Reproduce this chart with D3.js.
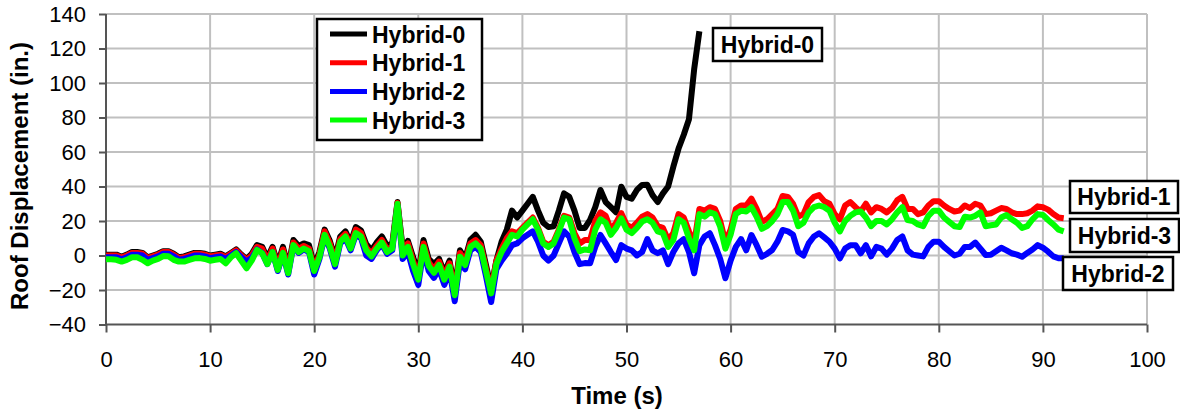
<!DOCTYPE html>
<html lang="en">
<head>
<meta charset="UTF-8">
<title>Roof Displacement</title>
<script src="https://cdn.jsdelivr.net/npm/d3@7"></script>
<style>
  * { margin: 0; padding: 0; }
  body { background: #fff; width: 1180px; height: 414px; overflow: hidden; }
  svg { display: block; font-family: 'Liberation Sans', Arial, sans-serif; }
  .tick-label { font-size: 22px; fill: #000; }
  .title { font-size: 24px; font-weight: bold; fill: #000; }
  .legend-text { font-size: 23px; font-weight: bold; fill: #000; }
</style>
</head>
<body>
<svg width="1180" height="414"></svg>
<script>
// sample step of the records (s)
const time = d3.range(0, 92.25, 0.5);

const xTicks = [0, 10, 20, 30, 40, 50, 60, 70, 80, 90, 100];
const yTicks = [-40, -20, 0, 20, 40, 60, 80, 100, 120, 140];

// Hybrid-0 stops at 57 s (collapse)
const hybrid0 = [
  0.5, 0.5, 0.5, -0.7, 0.5, 2, 2, 1.5, -1, 0,
  1, 2.5, 2.5, 1, -1, -0.5, 0.5, 1.5, 1.5, 1,
  0, 0.5, 1, -0.5, 1.5, 3.5, 0.5, -2, 1, 6,
  5, -1.5, 5, -5, 5, -7, 9, 5.5, 7, 6,
  -6, 2, 15, 8.5, -1.5, 11, 14, 7.5, 16.5, 14.5,
  6.5, 3, 7.5, 11, 5.5, 7, 31, 4, 8.5, -1,
  -10, 9, -2, -5, -2, -10, -3, -19.5, 3, -2,
  9, 12, 8, -5.5, -19, -3,
  8, 15, 26, 22, 26, 30, 34, 26, 19, 16.5,
  17, 26, 36, 34, 26, 16, 16, 20.6, 28, 38,
  31, 28, 25, 39.9, 34, 33, 38, 40.9, 41, 35,
  31, 36, 40, 51.5, 62, 70, 79, 108, 130
];

const hybrid1 = [
  0, 0, 0, -1.2, 0, 1.5, 1.5, 1, -1.5, -0.5,
  0.5, 2, 2, 0.5, -1.5, -1, 0, 1, 1, 0.5,
  -0.5, 0, 0.5, -1, 1, 3, 0, -2.5, 0, 5,
  4, -3, 4, -6.5, 3.5, -8, 7.5, 4, 5.5, 4,
  -7.5, 0.5, 14, 7, -3.5, 9.5, 12.5, 6, 15, 13,
  4.5, 1, 5.5, 9, 3.5, 5, 30.5, 2, 7, -3,
  -12.5, 7, -4, -8, -3.5, -12, -4.5, -21.5, 1.5, -3.5,
  7, 9, 6, -7.5, -20.5, -3,
  4, 10, 14, 13, 16, 19, 22, 16, 8, 6,
  8, 15, 23, 22, 13, 7, 9, 9, 20, 25,
  23, 15, 19, 24.5, 18, 16, 19, 22.5, 24, 22,
  17, 16, 9, 13, 24, 22, 14, 7, 27, 26,
  28, 27, 20, 8, 15, 27, 29, 29, 33, 27,
  19.5, 21, 24, 27, 34.5, 34, 30, 22.5, 24, 31,
  34, 35, 31.5, 30, 24, 21, 29, 31, 28, 25.5,
  30, 25, 28, 27, 25, 27.5, 32, 34, 27, 27,
  24, 25, 29, 31.5, 31.5, 29, 27, 25.5, 26, 29,
  27.5, 30, 29, 24, 24.5, 26, 27.5, 27, 25, 24,
  24, 24.5, 26, 28.5, 28, 26.6, 24, 22, 21.6
];

const hybrid2 = [
  -1, -1, -1, -2.2, -1, 0.5, 0.5, 0, -2.5, -1.5,
  -0.5, 1, 1, -0.5, -2.5, -2, -1, 0, 0, -0.5,
  -1.5, -1, -0.5, -2, 0, 2, -1, -3.5, -1.5, 3.5,
  1.5, -5, 2, -9, 1, -11, 5.5, 1.5, 3.5, 2,
  -11, -2, 11, 4, -6.5, 7, 10, 3, 12, 10,
  0, -2, 3, 6.5, 1, 3, 29, -2, 2, -9,
  -17, 3, -9, -13, -8, -17, -9, -26.5, -3.5, -8,
  3, 5, 2, -12, -27, -8,
  -3, 1, 6, 7, 10, 12, 14, 8, 0, -3,
  0, 7, 14, 11, 2, -5, -4.4, -4.5, 5, 11.9,
  7, 2, -2.6, 6, 4, 3, 0, 2, 9.5, 3,
  1.3, 3, -5, 2, 7, 9.5, 2, -10.3, 6, 11,
  12.9, 6, -2, -13.2, -3, 5, 9.5, 3, 11.9, 6,
  -0.7, 1, 3.2, 8, 14.8, 14, 12, 2, 0, 7,
  11, 12.9, 10.5, 8, 4, -1.6, 4, 6, 6, 1.3,
  6, -0.5, 5, 4, 0.5, 4, 9, 11, 3, 0.5,
  0, -0.5, 5, 8, 8, 5, 2.5, 0, 1, 5,
  5, 7.5, 4, 0.3, 0.5, 2.5, 4.5, 3, 1.3, 0.5,
  -0.7, 1.5, 3.5, 6, 4.5, 2.2, -0.5, -1.6, -1.6
];

const hybrid3 = [
  -2.2, -2.2, -2.5, -3.5, -2.5, -1, -1, -2.5, -4.5, -3,
  -2, -0.3, -0.5, -2.5, -3.5, -3.5, -2.5, -1.6, -1.5, -2,
  -3, -2.5, -2, -4.5, -1, 1.3, -3, -7.4, -3, 3.2,
  1.3, -5, 2, -8.4, 1.5, -10.3, 6, 2, 4, 2.5,
  -9, -1, 12, 5, -5, 8, 11, 4, 13, 11,
  3, -0.5, 4, 7.5, 2, 4, 30, 0, 5, -5,
  -14, 5, -6, -10, -5.5, -14, -6.5, -23, -0.7, -5.5,
  5, 7, 4, -9, -22, -5,
  2, 7, 12, 11, 15, 18, 21, 15, 7, 5,
  7, 14, 22, 21, 10, 2.5, 3.5, 3, 15, 21,
  19, 12, 16, 21.5, 15, 13, 16, 19.7, 21, 19,
  14, 13, 5, 9, 21, 19, 10, 3, 24, 22.5,
  25, 24, 16.7, 4, 12, 24, 26, 25.5, 28, 22.5,
  15.5, 17, 20, 24, 31, 31, 26, 17, 19, 25,
  28, 29, 28, 26, 19, 14, 20, 23, 25, 25.5,
  22, 17, 20, 20, 18, 21, 25, 28, 20.5, 20,
  18, 17, 23, 26, 26, 22, 19.5, 17, 16.5, 22.5,
  22, 23, 25, 17, 17.5, 18, 22, 23.5, 21, 19,
  16, 17, 21, 24, 23.5, 20.6, 18, 15, 14
];

const series = [
  { name: 'Hybrid-0', color: '#000000', values: hybrid0 },
  { name: 'Hybrid-1', color: '#ff0000', values: hybrid1 },
  { name: 'Hybrid-2', color: '#0000ff', values: hybrid2 },
  { name: 'Hybrid-3', color: '#00ff00', values: hybrid3 },
];

// end-of-line tag boxes
const tags = [
  { name: 'Hybrid-0', x: 713, y: 28, w: 109, h: 33 },
  { name: 'Hybrid-1', x: 1070, y: 181, w: 108, h: 32 },
  { name: 'Hybrid-3', x: 1070, y: 219, w: 109, h: 33 },
  { name: 'Hybrid-2', x: 1063, y: 257, w: 110, h: 33 },
];

const plot = { left: 106, right: 1147, top: 14, bottom: 324.5 };

const svg = d3.select('svg');
const x = d3.scaleLinear().domain([0, 100]).range([plot.left, plot.right]);
const y = d3.scaleLinear().domain([-40, 140]).range([plot.bottom, plot.top]);

// Grid
const grid = svg.append('g').attr('stroke', '#c0c0c0').attr('stroke-width', 2);
grid.selectAll('line.h').data(yTicks.filter(d => d !== -40)).join('line')
  .attr('class', 'h')
  .attr('x1', plot.left).attr('x2', plot.right)
  .attr('y1', d => y(d)).attr('y2', d => y(d));
grid.selectAll('line.v').data(xTicks.filter(d => d !== 0)).join('line')
  .attr('class', 'v')
  .attr('y1', plot.top).attr('y2', plot.bottom)
  .attr('x1', d => x(d)).attr('x2', d => x(d));

// Axes
const yAxis = svg.append('g')
  .attr('transform', `translate(${plot.left},0)`)
  .call(d3.axisLeft(y).tickValues(yTicks).tickSize(7).tickPadding(13));
const xAxis = svg.append('g')
  .attr('transform', `translate(0,${plot.bottom})`)
  .call(d3.axisBottom(x).tickValues(xTicks).tickSize(8).tickPadding(19));

[yAxis, xAxis].forEach(ax => {
  ax.attr('font-size', null).attr('font-family', null);
  ax.select('.domain').attr('stroke', '#555').attr('stroke-width', 2);
  ax.selectAll('.tick line').attr('stroke', '#555').attr('stroke-width', 2);
  ax.selectAll('.tick text').attr('class', 'tick-label');
});
yAxis.select('.domain').attr('d', `M0,${plot.top}V${plot.bottom}`);
xAxis.select('.domain').attr('d', `M${plot.left},0H${plot.right}`);

// Lines
const line = d3.line()
  .x((d, i) => x(time[i]))
  .y(d => y(d));

svg.append('g').selectAll('path').data(series).join('path')
  .attr('fill', 'none')
  .attr('stroke', d => d.color)
  .attr('stroke-width', 6)
  .attr('stroke-linejoin', 'round')
  .attr('d', d => line(d.values));

// Axis titles
svg.append('text').attr('class', 'title')
  .attr('x', 617).attr('y', 404).attr('text-anchor', 'middle')
  .text('Time (s)');
svg.append('text').attr('class', 'title')
  .attr('transform', 'translate(28,176) rotate(-90)')
  .attr('text-anchor', 'middle')
  .text('Roof Displacement (in.)');

// Legend
const legend = svg.append('g');
legend.append('rect')
  .attr('x', 317).attr('y', 19).attr('width', 165).attr('height', 121)
  .attr('fill', '#fff').attr('stroke', '#000').attr('stroke-width', 2.5);
const rows = legend.selectAll('g').data(series).join('g')
  .attr('transform', (d, i) => `translate(0,${34 + i * 28.7})`);
rows.append('line')
  .attr('x1', 330).attr('x2', 367)
  .attr('stroke', d => d.color).attr('stroke-width', 5);
rows.append('text').attr('class', 'legend-text')
  .attr('x', 372).attr('y', 8.5)
  .text(d => d.name);

// Tags
const tag = svg.append('g').selectAll('g').data(tags).join('g');
tag.append('rect')
  .attr('x', d => d.x).attr('y', d => d.y)
  .attr('width', d => d.w).attr('height', d => d.h)
  .attr('fill', '#fff').attr('stroke', '#000').attr('stroke-width', 2.5);
tag.append('text').attr('class', 'legend-text')
  .attr('x', d => d.x + d.w / 2).attr('y', d => d.y + d.h / 2 + 8)
  .attr('text-anchor', 'middle')
  .text(d => d.name);
</script>
</body>
</html>
